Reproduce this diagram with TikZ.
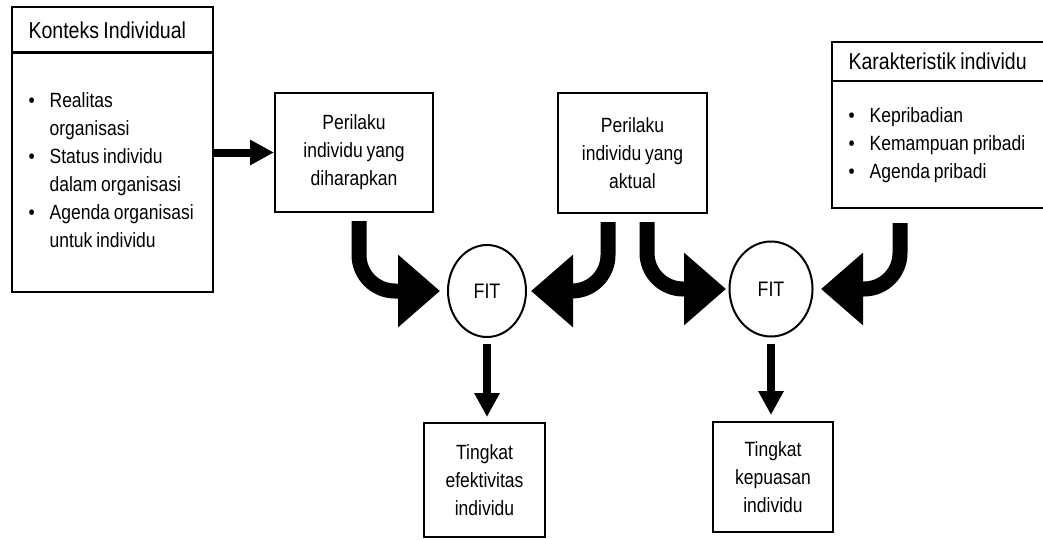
\documentclass[tikz,border=0pt]{standalone}
\usepackage{fontspec}
\setmainfont{Liberation Sans}[FakeStretch=0.85,WordSpace=0.8]
\usetikzlibrary{arrows.meta,shapes.geometric,positioning}
\tikzset{box/.style={draw,line width=1pt,inner sep=0pt,align=center,font=\fontsize{10.3}{14}\selectfont}}
\tikzset{hdr/.style={box,align=flush left,inner xsep=8.25pt,font=\fontsize{11.5}{14}\selectfont}}
\tikzset{lst/.style={box,align=flush left,inner xsep=8.25pt}}
\tikzset{ring/.style={draw,ellipse,line width=1pt,inner sep=0pt,font=\fontsize{10.5}{12}\selectfont}}
\tikzset{curvearr/.style={line width=7.5pt,rounded corners=18pt,-{Triangle[length=21pt,width=35pt]},shorten <=4pt}}
\tikzset{straightarr/.style={line width=4pt,-{Triangle[length=12pt,width=12pt]}}}
\newcommand{\BulletList}[1]{\begin{tabular}{@{}l@{\hspace{7.5pt}}l@{}}#1\end{tabular}}
\begin{document}
\begin{tikzpicture}[x=0.5pt,y=-0.5pt]
\useasboundingbox (0,0) rectangle (1043,540);
\clip (0,0) rectangle (1043,540);
% left and right context boxes
\node[hdr,text width=84pt,minimum height=23pt] (konteksH) at (112.5,30) {Konteks Individual};
\node[lst,text width=84pt,minimum height=120pt] (konteksB) at (112.5,172) {\BulletList{\textbullet&Realitas\\&organisasi\\\textbullet&Status individu\\&dalam organisasi\\\textbullet&Agenda organisasi\\&untuk individu}};
\node[hdr,text width=93.5pt,minimum height=19.5pt] (karakterH) at (942,61.5) {Karakteristik individu};
\node[lst,text width=93.5pt,minimum height=63.5pt] (karakterB) at (942,144.5) {\BulletList{\textbullet&Kepribadian\\\textbullet&Kemampuan pribadi\\\textbullet&Agenda pribadi}};
% behaviour boxes, fit and outcomes
\node[box,minimum width=79pt,minimum height=59.5pt] (harap) at (354,152.5) {Perilaku\\individu yang\\diharapkan};
\node[box,minimum width=74.5pt,minimum height=60pt] (aktual) at (632.5,153) {Perilaku\\individu yang\\aktual};
\node[ring,minimum width=39pt,minimum height=46pt] (fit1) at (487,291) {FIT};
\node[ring,minimum width=41.5pt,minimum height=47.5pt] (fit2) at (771,289) {FIT};
\node[box,minimum width=60.5pt,minimum height=57pt] (efektif) at (484.5,480) {Tingkat\\efektivitas\\individu};
\node[box,minimum width=60pt,minimum height=55pt] (puas) at (773,477) {Tingkat\\kepuasan\\individu};
% arrows
\draw[straightarr] (konteksB.east|-harap.west)--(harap.west);
\draw[curvearr,shorten >=3.5pt] ([xshift=2.5pt]harap.south)|-(fit1.west);
\draw[curvearr,shorten >=2pt] ([xshift=-12.25pt]aktual.south)|-(fit1.east);
\draw[curvearr,shorten >=1.25pt] ([xshift=7.25pt]aktual.south)|-(fit2.west);
\draw[curvearr,shorten <=7pt,shorten >=3.75pt] ([xshift=-21pt]karakterB.south)|-(fit2.east);
\draw[straightarr,shorten <=3pt,shorten >=2.5pt] (fit1.south)--(fit1.south|-efektif.north);
\draw[straightarr,shorten <=3pt,shorten >=3pt] (fit2.south)--(fit2.south|-puas.north);
\end{tikzpicture}
\end{document}
